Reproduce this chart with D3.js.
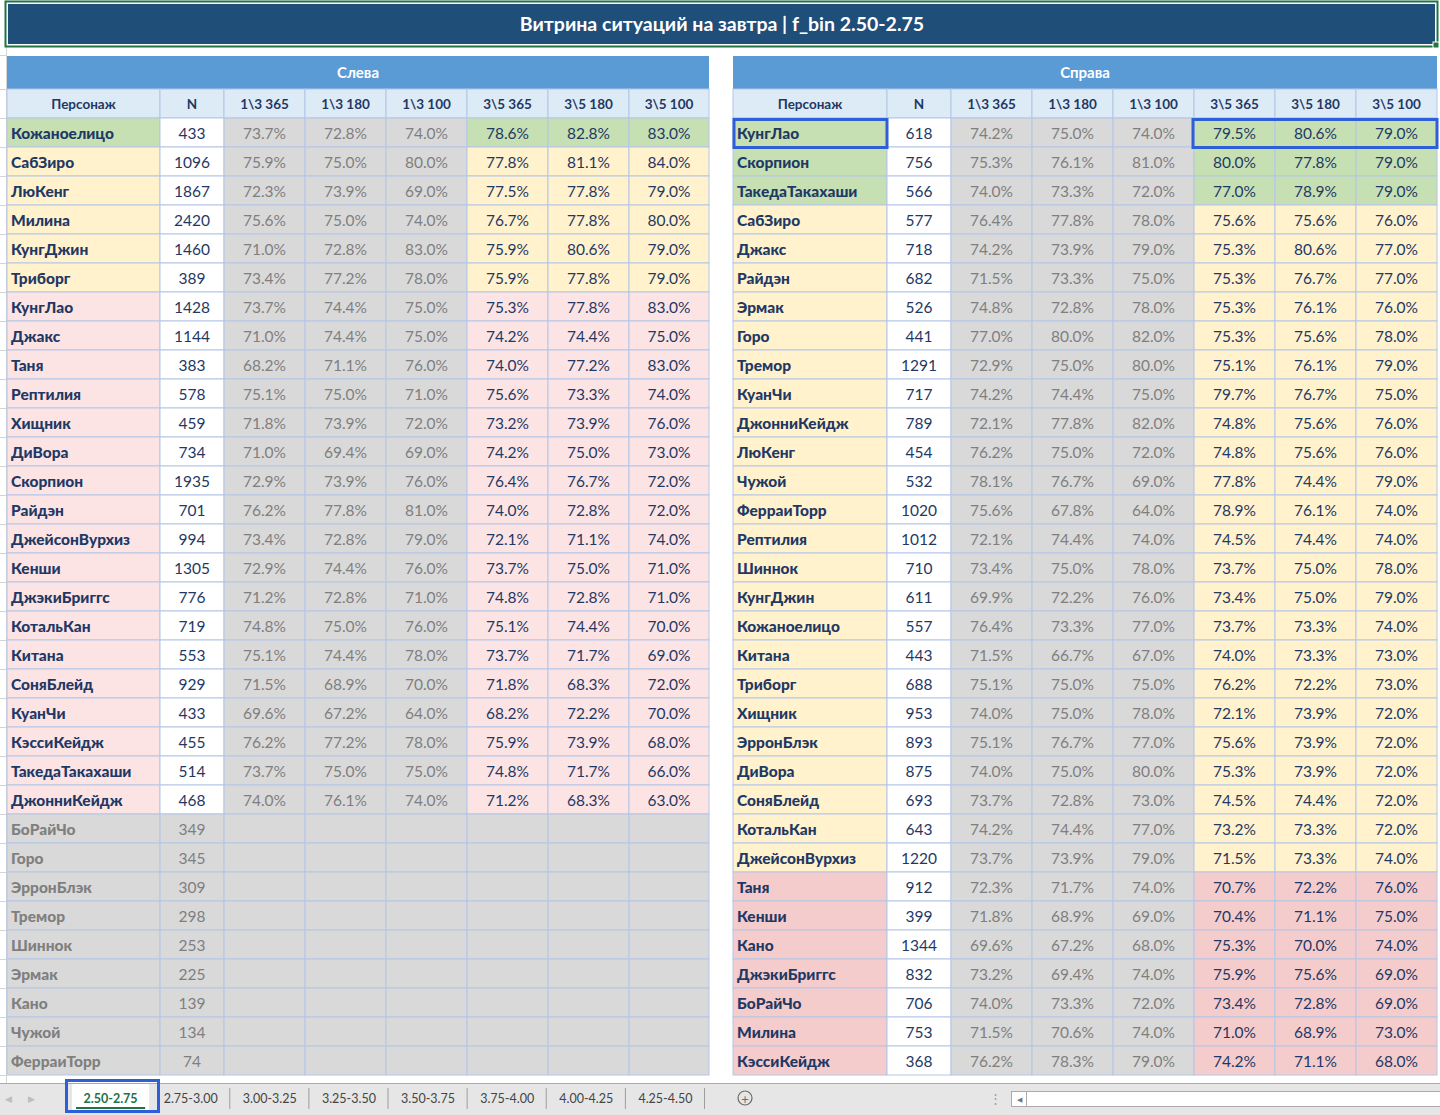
<!DOCTYPE html>
<html>
<head>
<meta charset="utf-8">
<script src="https://cdn.jsdelivr.net/npm/d3@7"></script>
<style>
  html, body { margin: 0; padding: 0; background: #fff; }
  svg { display: block; font-family: Lato, "Open Sans", sans-serif; }
</style>
</head>
<body>
<div id="chart"></div>
<script>
// ---- data: left table (Слева)
var leftNames = ["Кожаноелицо","СабЗиро","ЛюКенг","Милина","КунгДжин","Триборг","КунгЛао","Джакс","Таня","Рептилия","Хищник","ДиВора","Скорпион","Райдэн","ДжейсонВурхиз","Кенши","ДжэкиБриггс","КотальКан","Китана","СоняБлейд","КуанЧи","КэссиКейдж","ТакедаТакахаши","ДжонниКейдж","БоРайЧо","Горо","ЭрронБлэк","Тремор","Шиннок","Эрмак","Кано","Чужой","ФерраиТорр"];
var leftN = [433,1096,1867,2420,1460,389,1428,1144,383,578,459,734,1935,701,994,1305,776,719,553,929,433,455,514,468,349,345,309,298,253,225,139,134,74];
var left13_365 = [73.7,75.9,72.3,75.6,71.0,73.4,73.7,71.0,68.2,75.1,71.8,71.0,72.9,76.2,73.4,72.9,71.2,74.8,75.1,71.5,69.6,76.2,73.7,74.0];
var left13_180 = [72.8,75.0,73.9,75.0,72.8,77.2,74.4,74.4,71.1,75.0,73.9,69.4,73.9,77.8,72.8,74.4,72.8,75.0,74.4,68.9,67.2,77.2,75.0,76.1];
var left13_100 = [74.0,80.0,69.0,74.0,83.0,78.0,75.0,75.0,76.0,71.0,72.0,69.0,76.0,81.0,79.0,76.0,71.0,76.0,78.0,70.0,64.0,78.0,75.0,74.0];
var left35_365 = [78.6,77.8,77.5,76.7,75.9,75.9,75.3,74.2,74.0,75.6,73.2,74.2,76.4,74.0,72.1,73.7,74.8,75.1,73.7,71.8,68.2,75.9,74.8,71.2];
var left35_180 = [82.8,81.1,77.8,77.8,80.6,77.8,77.8,74.4,77.2,73.3,73.9,75.0,76.7,72.8,71.1,75.0,72.8,74.4,71.7,68.3,72.2,73.9,71.7,68.3];
var left35_100 = [83.0,84.0,79.0,80.0,79.0,79.0,83.0,75.0,83.0,74.0,76.0,73.0,72.0,72.0,74.0,71.0,71.0,70.0,69.0,72.0,70.0,68.0,66.0,63.0];
var leftTier = ["g","y","y","y","y","y","r","r","r","r","r","r","r","r","r","r","r","r","r","r","r","r","r","r","x","x","x","x","x","x","x","x","x"];

// ---- data: right table (Справа)
var rightNames = ["КунгЛао","Скорпион","ТакедаТакахаши","СабЗиро","Джакс","Райдэн","Эрмак","Горо","Тремор","КуанЧи","ДжонниКейдж","ЛюКенг","Чужой","ФерраиТорр","Рептилия","Шиннок","КунгДжин","Кожаноелицо","Китана","Триборг","Хищник","ЭрронБлэк","ДиВора","СоняБлейд","КотальКан","ДжейсонВурхиз","Таня","Кенши","Кано","ДжэкиБриггс","БоРайЧо","Милина","КэссиКейдж"];
var rightN = [618,756,566,577,718,682,526,441,1291,717,789,454,532,1020,1012,710,611,557,443,688,953,893,875,693,643,1220,912,399,1344,832,706,753,368];
var right13_365 = [74.2,75.3,74.0,76.4,74.2,71.5,74.8,77.0,72.9,74.2,72.1,76.2,78.1,75.6,72.1,73.4,69.9,76.4,71.5,75.1,74.0,75.1,74.0,73.7,74.2,73.7,72.3,71.8,69.6,73.2,74.0,71.5,76.2];
var right13_180 = [75.0,76.1,73.3,77.8,73.9,73.3,72.8,80.0,75.0,74.4,77.8,75.0,76.7,67.8,74.4,75.0,72.2,73.3,66.7,75.0,75.0,76.7,75.0,72.8,74.4,73.9,71.7,68.9,67.2,69.4,73.3,70.6,78.3];
var right13_100 = [74.0,81.0,72.0,78.0,79.0,75.0,78.0,82.0,80.0,75.0,82.0,72.0,69.0,64.0,74.0,78.0,76.0,77.0,67.0,75.0,78.0,77.0,80.0,73.0,77.0,79.0,74.0,69.0,68.0,74.0,72.0,74.0,79.0];
var right35_365 = [79.5,80.0,77.0,75.6,75.3,75.3,75.3,75.3,75.1,79.7,74.8,74.8,77.8,78.9,74.5,73.7,73.4,73.7,74.0,76.2,72.1,75.6,75.3,74.5,73.2,71.5,70.7,70.4,75.3,75.9,73.4,71.0,74.2];
var right35_180 = [80.6,77.8,78.9,75.6,80.6,76.7,76.1,75.6,76.1,76.7,75.6,75.6,74.4,76.1,74.4,75.0,75.0,73.3,73.3,72.2,73.9,73.9,73.9,74.4,73.3,73.3,72.2,71.1,70.0,75.6,72.8,68.9,71.1];
var right35_100 = [79.0,79.0,79.0,76.0,77.0,77.0,76.0,78.0,79.0,75.0,76.0,76.0,79.0,74.0,74.0,78.0,79.0,74.0,73.0,73.0,72.0,72.0,72.0,72.0,72.0,74.0,76.0,75.0,74.0,69.0,69.0,73.0,68.0];
var rightTier = ["g","g","g","y","y","y","y","y","y","y","y","y","y","y","y","y","y","y","y","y","y","y","y","y","y","y","R","R","R","R","R","R","R"];

var colLabels = ["Персонаж","N","1\\3 365","1\\3 180","1\\3 100","3\\5 365","3\\5 180","3\\5 100"];
var sheetTabs = ["2.50-2.75","2.75-3.00","3.00-3.25","3.25-3.50","3.50-3.75","3.75-4.00","4.00-4.25","4.25-4.50"];
var title = "Витрина ситуаций на завтра | f_bin 2.50-2.75";

var W = 1440, H = 1115;
var navy = "#1F3864", grayText = "#7F7F7F", grid = "#B4C6E7";
var tierFill = {g: "#C6E0B4", y: "#FFF2CC", r: "#FCE4E4", R: "#F4CCCC", x: "#D9D9D9"};

var svg = d3.select("#chart").append("svg")
    .attr("width", W).attr("height", H);

// excel grid in the left margin
var y = d3.scaleBand().domain(d3.range(33)).range([118, 1075]);
svg.append("line").attr("x1", 6.5).attr("x2", 6.5).attr("y1", 0).attr("y2", 1083)
    .attr("stroke", "#D4D4D4");
svg.selectAll(".mgrid").data([55, 89].concat(d3.range(34).map(i => 118 + i * y.step())))
    .enter().append("line")
    .attr("x1", 0).attr("x2", 6).attr("y1", d => d + 0.5).attr("y2", d => d + 0.5)
    .attr("stroke", "#D4D4D4");

// title bar
svg.append("rect").attr("x", 5.5).attr("y", 1.5).attr("width", 1432).attr("height", 45)
    .attr("fill", "#fff").attr("stroke", "#217346").attr("stroke-width", 2);
svg.append("rect").attr("x", 8).attr("y", 4).attr("width", 1427).attr("height", 40)
    .attr("fill", "#1F4E79");
svg.append("rect").attr("x", 1433).attr("y", 42).attr("width", 6).attr("height", 6)
    .attr("fill", "#217346").attr("stroke", "#fff").attr("stroke-width", 1);
svg.append("text").attr("x", 722).attr("y", 23.5).attr("text-anchor", "middle")
    .attr("dominant-baseline", "central")
    .attr("fill", "#fff").attr("font-weight", "bold").attr("font-size", "19.5px")
    .text(title);

function drawTable(x0, widths, head, names, nums, v13a, v13b, v13c, v35a, v35b, v35c, tiers) {
    var edges = [x0].concat(Array.from(d3.cumsum(widths), w => x0 + w));
    var x = d3.scaleOrdinal().domain(d3.range(8)).range(edges.slice(0, 8));
    var cw = i => widths[i];
    var g = svg.append("g");

    // header rows
    g.append("rect").attr("x", x0).attr("y", 56).attr("width", edges[8] - x0).attr("height", 33)
        .attr("fill", "#5B9BD5");
    g.append("text").attr("x", (x0 + edges[8]) / 2).attr("y", 71.5)
        .attr("text-anchor", "middle").attr("dominant-baseline", "central")
        .attr("fill", "#fff").attr("font-weight", "bold").attr("font-size", "15px").text(head);
    g.selectAll(".hc").data(colLabels).enter().append("rect")
        .attr("x", (d, i) => x(i)).attr("y", 89).attr("width", (d, i) => cw(i)).attr("height", 29)
        .attr("fill", "#DDEBF7").attr("stroke", grid);
    g.selectAll(".ht").data(colLabels).enter().append("text")
        .attr("x", (d, i) => x(i) + cw(i) / 2).attr("y", 104)
        .attr("text-anchor", "middle").attr("dominant-baseline", "central")
        .attr("fill", navy).attr("font-weight", "bold").attr("font-size", "13.5px").text(d => d);

    var vals = [v13a, v13b, v13c, v35a, v35b, v35c];
    names.forEach(function(nm, r) {
        var t = tiers[r], dead = t === "x";
        var cells = [
            {fill: tierFill[t], txt: nm, col: dead ? grayText : navy, bold: true},
            {fill: dead ? tierFill.x : "#fff", txt: nums[r], col: dead ? grayText : navy}
        ];
        vals.forEach(function(arr, k) {
            var v = arr[r];
            cells.push({
                fill: k < 3 ? tierFill.x : tierFill[t],
                txt: v == null ? "" : v.toFixed(1) + "%",
                col: k < 3 ? grayText : navy
            });
        });
        var row = g.append("g");
        row.selectAll("rect").data(cells).enter().append("rect")
            .attr("x", (d, i) => x(i)).attr("y", y(r))
            .attr("width", (d, i) => cw(i)).attr("height", y.step())
            .attr("fill", d => d.fill).attr("stroke", grid);
        row.selectAll("text").data(cells).enter().append("text")
            .attr("x", (d, i) => i === 0 ? x(i) + 4 : x(i) + cw(i) / 2)
            .attr("y", y(r) + y.step() / 2 + 0.5)
            .attr("text-anchor", (d, i) => i === 0 ? "start" : "middle")
            .attr("dominant-baseline", "central")
            .attr("fill", d => d.col)
            .attr("font-weight", d => d.bold ? "900" : "normal")
            .attr("font-size", d => d.bold ? "15.5px" : "15.5px")
            .text(d => d.txt);
    });
    return x;
}

drawTable(7, [153, 64, 81, 81, 81, 81, 81, 80], "Слева",
    leftNames, leftN, left13_365, left13_180, left13_100, left35_365, left35_180, left35_100, leftTier);
var xr = drawTable(733, [154, 64, 81, 81, 81, 81, 81, 81], "Справа",
    rightNames, rightN, right13_365, right13_180, right13_100, right35_365, right35_180, right35_100, rightTier);

// selection boxes on the right table
var sel = "#2E5FD8";
svg.append("rect").attr("x", 734).attr("y", 119.5).attr("width", 153).attr("height", 28)
    .attr("fill", "none").attr("stroke", sel).attr("stroke-width", 3);
svg.append("rect").attr("x", xr(5) - 1).attr("y", 119.5).attr("width", 1437 - xr(5) + 1).attr("height", 28)
    .attr("fill", "none").attr("stroke", sel).attr("stroke-width", 3);

// sheet tab bar
var tb = svg.append("g");
tb.append("rect").attr("x", 0).attr("y", 1083).attr("width", W).attr("height", 32).attr("fill", "#E6E6E6");
tb.append("line").attr("x1", 0).attr("x2", W).attr("y1", 1083.5).attr("y2", 1083.5).attr("stroke", "#ABABAB");
tb.append("text").attr("x", 5).attr("y", 1098).attr("dominant-baseline", "central")
    .attr("fill", "#BDBDBD").attr("font-size", "9px").text("◀");
tb.append("text").attr("x", 28).attr("y", 1098).attr("dominant-baseline", "central")
    .attr("fill", "#BDBDBD").attr("font-size", "9px").text("▶");

var tabX = d3.scaleBand().domain(sheetTabs).range([72, 705]).padding(0);
tb.append("rect").attr("x", tabX(sheetTabs[0])).attr("y", 1084).attr("width", tabX.bandwidth() - 2).attr("height", 26)
    .attr("fill", "#fff");
tb.append("line").attr("x1", tabX(sheetTabs[0]) + 4).attr("x2", tabX(sheetTabs[0]) + tabX.bandwidth() - 6)
    .attr("y1", 1108).attr("y2", 1108).attr("stroke", "#217346").attr("stroke-width", 2);
tb.selectAll(".tab").data(sheetTabs).enter().append("text")
    .attr("x", d => tabX(d) + tabX.bandwidth() / 2 - (d === sheetTabs[0] ? 1 : 0))
    .attr("y", 1098).attr("text-anchor", "middle").attr("dominant-baseline", "central")
    .attr("fill", (d, i) => i === 0 ? "#217346" : "#444")
    .attr("font-weight", (d, i) => i === 0 ? "bold" : "normal")
    .attr("font-size", "12.5px").text(d => d);
tb.selectAll(".sep").data(sheetTabs.slice(1)).enter().append("line")
    .attr("x1", d => tabX(d) + tabX.bandwidth() - 0.5).attr("x2", d => tabX(d) + tabX.bandwidth() - 0.5)
    .attr("y1", 1088).attr("y2", 1109).attr("stroke", "#9E9E9E");
tb.append("rect").attr("x", 66.5).attr("y", 1080.5).attr("width", 92).attr("height", 31)
    .attr("fill", "none").attr("stroke", sel).attr("stroke-width", 3);

tb.append("circle").attr("cx", 745).attr("cy", 1098).attr("r", 7)
    .attr("fill", "none").attr("stroke", "#6B6B6B").attr("stroke-width", 1.2);
tb.append("text").attr("x", 745).attr("y", 1098.5).attr("text-anchor", "middle").attr("dominant-baseline", "central")
    .attr("fill", "#6B6B6B").attr("font-size", "13px").text("+");
tb.append("text").attr("x", 995).attr("y", 1098).attr("text-anchor", "middle").attr("dominant-baseline", "central")
    .attr("fill", "#9E9E9E").attr("font-size", "13px").text("⋮");
tb.append("rect").attr("x", 1011.5).attr("y", 1091.5).attr("width", 440).attr("height", 15)
    .attr("fill", "#fff").attr("stroke", "#ABABAB");
tb.append("line").attr("x1", 1026.5).attr("x2", 1026.5).attr("y1", 1092).attr("y2", 1106).attr("stroke", "#ABABAB");
tb.append("text").attr("x", 1019).attr("y", 1099).attr("text-anchor", "middle").attr("dominant-baseline", "central")
    .attr("fill", "#777").attr("font-size", "7px").text("◀");
</script>
</body>
</html>
